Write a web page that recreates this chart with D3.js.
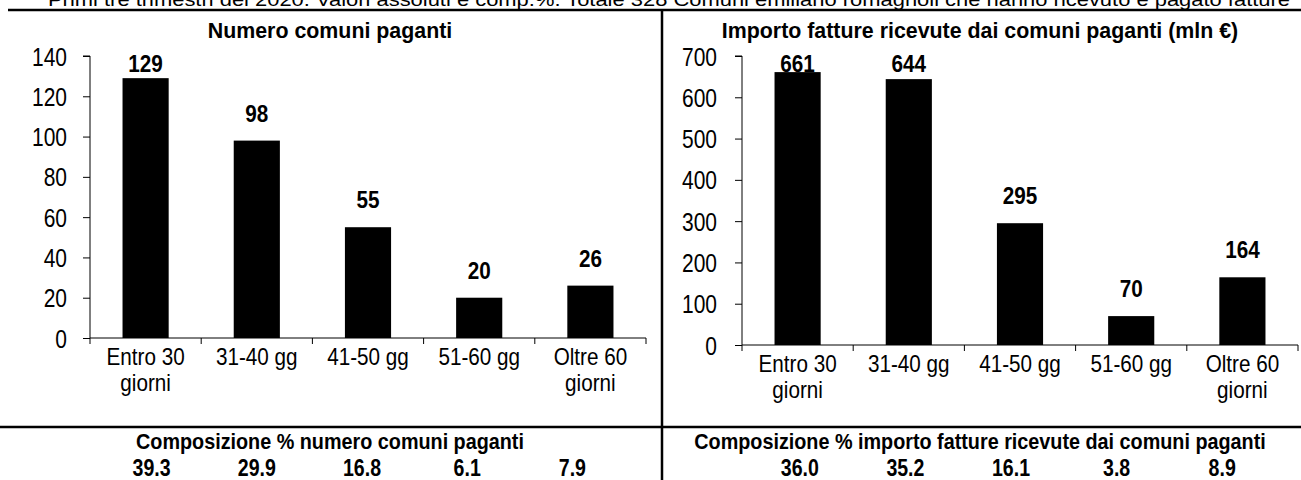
<!DOCTYPE html>
<html>
<head>
<meta charset="utf-8">
<script src="https://cdn.jsdelivr.net/npm/d3@7"></script>
<style>
  body { margin: 0; background: #fff; }
  svg { display: block; }
  text { font-family: "Liberation Sans", Arial, sans-serif; fill: #000; }
</style>
</head>
<body>
<div id="chart"></div>
<script>
// data
var categories = ["Entro 30|giorni", "31-40 gg", "41-50 gg", "51-60 gg", "Oltre 60|giorni"];
var numeroComuni = [129, 98, 55, 20, 26];
var importoFatture = [661, 644, 295, 70, 164];
var compNumero = ["39.3", "29.9", "16.8", "6.1", "7.9"];
var compImporto = ["36.0", "35.2", "16.1", "3.8", "8.9"];
var ticksLeft = [0, 20, 40, 60, 80, 100, 120, 140];
var ticksRight = [0, 100, 200, 300, 400, 500, 600, 700];

var topText = "Primi tre trimestri del 2020. Valori assoluti e comp.%. Totale 328 Comuni emiliano romagnoli che hanno ricevuto e pagato fatture";
var titleLeft = "Numero comuni paganti";
var titleRight = "Importo fatture ricevute dai comuni paganti (mln \u20ac)";
var subLeft = "Composizione % numero comuni paganti";
var subRight = "Composizione % importo fatture ricevute dai comuni paganti";

var svgWidth = 1301;
var svgHeight = 480;

var svg = d3.select("#chart")
  .append("svg")
  .attr("width", svgWidth)
  .attr("height", svgHeight);

// no narrow font installed, so squeeze the regular one
function narrowText(sel, x, y, sx, size, bold, txt, anchor) {
  return sel.append("text")
    .attr("transform", `translate(${x},${y}) scale(${sx},1)`)
    .attr("text-anchor", anchor || "middle")
    .style("font-size", size + "px")
    .style("font-weight", bold ? "bold" : "normal")
    .text(txt);
}

// header text, cut at the top like in the original
svg.append("text")
  .attr("x", 48)
  .attr("y", 6)
  .attr("textLength", 1242)
  .attr("lengthAdjust", "spacingAndGlyphs")
  .style("font-size", "18px")
  .text(topText);

// frame lines
svg.append("line").attr("x1", 8).attr("x2", svgWidth).attr("y1", 10).attr("y2", 10)
  .attr("stroke", "#000").attr("stroke-width", 2.5);
svg.append("line").attr("x1", 662).attr("x2", 662).attr("y1", 10).attr("y2", svgHeight)
  .attr("stroke", "#000").attr("stroke-width", 2.5);
svg.append("line").attr("x1", 0).attr("x2", svgWidth).attr("y1", 427).attr("y2", 427)
  .attr("stroke", "#000").attr("stroke-width", 2.5);

function drawPanel(opts) {
  var g = svg.append("g");

  narrowText(g, opts.titleX, 38, 0.93, 23, true, opts.title);

  var x = d3.scaleBand()
    .domain(categories)
    .range([opts.x0, opts.x1])
    .padding(0);

  var y = d3.scaleLinear()
    .domain([0, opts.max])
    .range([opts.y0, 56]);

  // y axis
  var sx = 0.84;
  var yAxis = d3.axisLeft(y).tickValues(opts.ticks).tickSize(7).tickPadding(opts.pad);
  var ya = g.append("g")
    .attr("transform", `translate(${opts.x0}, 0)`)
    .call(yAxis);
  ya.select(".domain").attr("d", `M-7,56H0V${opts.y0}`);
  ya.selectAll("text")
    .style("font-size", "25px")
    .style("font-family", "'Liberation Sans', Arial, sans-serif")
    .attr("fill", "#000")
    .attr("dy", "0.36em")
    .attr("x", -(7 + opts.pad) / sx)
    .attr("transform", `scale(${sx},1)`);

  // x axis line + boundary ticks
  g.append("line")
    .attr("x1", opts.x0).attr("x2", opts.x1)
    .attr("y1", opts.y0).attr("y2", opts.y0)
    .attr("stroke", "#000").attr("stroke-width", 1);
  var bounds = categories.map(function(c) { return x(c); }).concat([opts.x1]);
  g.selectAll(".xtick")
    .data(bounds)
    .enter()
    .append("line")
    .attr("x1", d => d).attr("x2", d => d)
    .attr("y1", opts.y0).attr("y2", opts.y0 + 6)
    .attr("stroke", "#000").attr("stroke-width", 1);

  // bars
  var bw = x.bandwidth() * 0.415;
  g.selectAll(".bar")
    .data(opts.values)
    .enter()
    .append("rect")
    .attr("x", (d, i) => x(categories[i]) + (x.bandwidth() - bw) / 2)
    .attr("y", d => y(d))
    .attr("width", bw)
    .attr("height", d => opts.y0 - y(d))
    .attr("fill", "#000");

  // value labels
  opts.values.forEach(function(v, i) {
    narrowText(g, x(categories[i]) + x.bandwidth() / 2,
      Math.max(y(v) - 19, opts.labelMin), 0.9, 23, true, v);
  });

  // category labels (two lines where needed)
  categories.forEach(function(c) {
    c.split("|").forEach(function(t, k) {
      narrowText(g, x(c) + x.bandwidth() / 2, opts.y0 + 27 + k * 26, 0.88, 23.5, false, t);
    });
  });

  // bottom composition block
  narrowText(g, opts.titleX, 449, 0.9, 22, true, opts.sub);

  var xc = d3.scaleBand()
    .domain(categories)
    .range(opts.compRange);
  opts.comp.forEach(function(v, i) {
    narrowText(g, xc(categories[i]) + xc.bandwidth() / 2, 476, 0.85, 23, true, v);
  });
}

drawPanel({
  title: titleLeft, titleX: 330, x0: 90, x1: 646, y0: 338, max: 140, pad: 16,
  ticks: ticksLeft, values: numeroComuni, labelMin: 72,
  sub: subLeft, comp: compNumero, compRange: [99, 625]
});

drawPanel({
  title: titleRight, titleX: 980, x0: 742, x1: 1298, y0: 345, max: 700, pad: 18,
  ticks: ticksRight, values: importoFatture, labelMin: 72,
  sub: subRight, comp: compImporto, compRange: [747, 1275]
});
</script>
</body>
</html>
